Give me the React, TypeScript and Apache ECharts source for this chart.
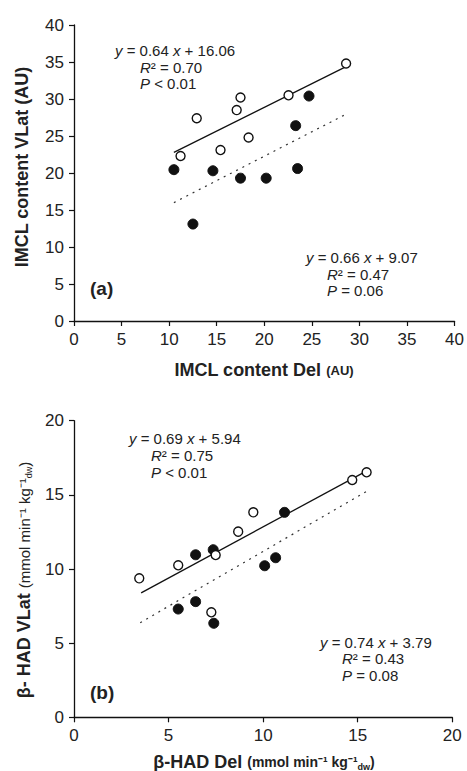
import React, { useEffect, useRef } from "react";
import * as echarts from "echarts";

// Panel (a): IMCL content
const imclOpenX = [11.2, 12.9, 15.4, 17.1, 17.5, 18.35, 22.55, 28.6];
const imclOpenY = [22.3, 27.4, 23.1, 28.5, 30.2, 24.8, 30.5, 34.8];
const imclFilledX = [10.5, 12.5, 14.6, 17.5, 20.2, 23.3, 23.5, 24.7];
const imclFilledY = [20.45, 13.1, 20.3, 19.3, 19.3, 26.4, 20.6, 30.4];
const imclOpenFit = { slope: 0.64, intercept: 16.06, from: 10.5, to: 28.6 };
const imclFilledFit = { slope: 0.66, intercept: 9.07, from: 10.5, to: 28.7 };
const imclTicks = [0, 5, 10, 15, 20, 25, 30, 35, 40];

// Panel (b): beta-HAD
const hadOpenX = [3.45, 5.51, 7.26, 7.49, 8.68, 9.48, 14.71, 15.47];
const hadOpenY = [9.37, 10.25, 7.08, 10.94, 12.52, 13.82, 16.0, 16.52];
const hadFilledX = [5.51, 6.43, 6.43, 7.36, 7.39, 10.08, 10.66, 11.13];
const hadFilledY = [7.3, 7.8, 10.96, 11.3, 6.34, 10.22, 10.76, 13.82];
const hadOpenFit = { slope: 0.69, intercept: 5.94, from: 3.55, to: 15.6 };
const hadFilledFit = { slope: 0.74, intercept: 3.79, from: 3.5, to: 15.55 };
const hadTicks = [0, 5, 10, 15, 20];

const FONT = "'Liberation Sans', Arial, Helvetica, sans-serif";
const INK = "#111111";

const pairs = (xs: number[], ys: number[]) => xs.map((x, i) => [x, ys[i]]);
const fitLine = (f: { slope: number; intercept: number; from: number; to: number }) => [
  [f.from, f.slope * f.from + f.intercept],
  [f.to, f.slope * f.to + f.intercept],
];

function axisCommon(ticks: number[]) {
  return {
    min: ticks[0],
    max: ticks[ticks.length - 1],
    interval: ticks[1] - ticks[0],
    axisLine: { show: true, onZero: false, lineStyle: { color: INK, width: 1.3 } },
    axisTick: { show: true, inside: false, length: 5, lineStyle: { color: INK, width: 1.2 } },
    axisLabel: { color: "#222", fontSize: 17, fontFamily: FONT, margin: 10 },
    splitLine: { show: false },
  };
}

const annRich = (size: number) => ({
  i: { fontStyle: "italic", fontSize: size, fontFamily: FONT, fill: "#222" },
  n: { fontSize: size, fontFamily: FONT, fill: "#222" },
});

function annText(x: number, y: number, text: string) {
  return {
    type: "text",
    x,
    y,
    style: {
      text,
      rich: annRich(15),
      fontSize: 15,
      fontFamily: FONT,
      fill: "#222",
      verticalAlign: "middle",
      align: "left",
    },
  };
}

export default function App() {
  const ref = useRef<HTMLDivElement>(null);
  useEffect(() => {
    if (!ref.current) return;
    const chart = echarts.init(ref.current, null, { renderer: "svg" });
    const openStyle = { color: "#ffffff", borderColor: INK, borderWidth: 1.4, opacity: 1 };
    const filledStyle = { color: INK, borderColor: INK, borderWidth: 1, opacity: 1 };
    const titleRich = {
      b: { fontSize: 18, fontWeight: "bold", fontFamily: FONT, fill: "#222" },
      s: { fontSize: 14, fontWeight: "bold", fontFamily: FONT, fill: "#222" },
      u: { fontSize: 13, fontWeight: "bold", fontFamily: FONT, fill: "#222" },
      d: { fontSize: 9, fontWeight: "bold", fontFamily: FONT, fill: "#222", verticalAlign: "bottom", padding: [6, 0, 0, 0] },
      r: { fontSize: 15, fontWeight: "normal", fontFamily: FONT, fill: "#222" },
      rs: { fontSize: 9, fontWeight: "normal", fontFamily: FONT, fill: "#222", verticalAlign: "bottom", padding: [6, 0, 0, 0] },
    };
    chart.setOption({
      animation: false,
      backgroundColor: "#ffffff",
      grid: [
        { left: 74, top: 25, width: 381, height: 296 },
        { left: 74, top: 420.7, width: 378.3, height: 296.6 },
      ],
      xAxis: [
        { type: "value", gridIndex: 0, ...axisCommon(imclTicks) },
        { type: "value", gridIndex: 1, ...axisCommon(hadTicks) },
      ],
      yAxis: [
        { type: "value", gridIndex: 0, ...axisCommon(imclTicks) },
        { type: "value", gridIndex: 1, ...axisCommon(hadTicks) },
      ],
      series: [
        {
          type: "line", xAxisIndex: 0, yAxisIndex: 0, data: fitLine(imclOpenFit), symbol: "none",
          lineStyle: { color: INK, width: 1.3, type: "solid" }, z: 1,
        },
        {
          type: "line", xAxisIndex: 0, yAxisIndex: 0, data: fitLine(imclFilledFit), symbol: "none",
          lineStyle: { color: "#333", width: 1.2, type: [2, 5] }, z: 1,
        },
        {
          type: "scatter", xAxisIndex: 0, yAxisIndex: 0, data: pairs(imclFilledX, imclFilledY),
          symbol: "circle", symbolSize: 10, itemStyle: filledStyle, z: 2,
        },
        {
          type: "scatter", xAxisIndex: 0, yAxisIndex: 0, data: pairs(imclOpenX, imclOpenY),
          symbol: "circle", symbolSize: 9, itemStyle: openStyle, z: 3,
        },
        {
          type: "line", xAxisIndex: 1, yAxisIndex: 1, data: fitLine(hadOpenFit), symbol: "none",
          lineStyle: { color: INK, width: 1.3, type: "solid" }, z: 1,
        },
        {
          type: "line", xAxisIndex: 1, yAxisIndex: 1, data: fitLine(hadFilledFit), symbol: "none",
          lineStyle: { color: "#333", width: 1.2, type: [2, 5] }, z: 1,
        },
        {
          type: "scatter", xAxisIndex: 1, yAxisIndex: 1, data: pairs(hadFilledX, hadFilledY),
          symbol: "circle", symbolSize: 10, itemStyle: filledStyle, z: 2,
        },
        {
          type: "scatter", xAxisIndex: 1, yAxisIndex: 1, data: pairs(hadOpenX, hadOpenY),
          symbol: "circle", symbolSize: 9, itemStyle: openStyle, z: 3,
        },
      ],
      graphic: [
        annText(115, 50, "{i|y}{n| = 0.64 }{i|x}{n| + 16.06}"),
        annText(140, 67, "{i|R}{n|² = 0.70}"),
        annText(140, 83, "{i|P}{n| < 0.01}"),
        annText(306, 257, "{i|y}{n| = 0.66 }{i|x}{n| + 9.07}"),
        annText(327, 274, "{i|R}{n|² = 0.47}"),
        annText(327, 290, "{i|P}{n| = 0.06}"),
        annText(129, 438, "{i|y}{n| = 0.69 }{i|x}{n| + 5.94}"),
        annText(151, 455, "{i|R}{n|² = 0.75}"),
        annText(151, 472, "{i|P}{n| < 0.01}"),
        annText(320, 642, "{i|y}{n| = 0.74 }{i|x}{n| + 3.79}"),
        annText(342, 658, "{i|R}{n|² = 0.43}"),
        annText(342, 675, "{i|P}{n| = 0.08}"),
        {
          type: "text", x: 90, y: 288,
          style: { text: "(a)", fontSize: 19, fontWeight: "bold", fontFamily: FONT, fill: "#222", verticalAlign: "middle" },
        },
        {
          type: "text", x: 90, y: 692,
          style: { text: "(b)", fontSize: 19, fontWeight: "bold", fontFamily: FONT, fill: "#222", verticalAlign: "middle" },
        },
        {
          type: "text", x: 264, y: 370,
          style: {
            text: "{b|IMCL content Del }{u|(AU)}", rich: titleRich,
            align: "center", verticalAlign: "middle",
          },
        },
        {
          type: "text", x: 22, y: 167, rotation: Math.PI / 2,
          style: {
            text: "{b|IMCL content VLat (AU)}", rich: titleRich,
            align: "center", verticalAlign: "middle",
          },
        },
        {
          type: "text", x: 264, y: 762,
          style: {
            text: "{b|β-HAD Del }{s|(mmol min⁻¹ kg⁻¹}{d|dw}{s|)}", rich: titleRich,
            align: "center", verticalAlign: "middle",
          },
        },
        {
          type: "text", x: 24, y: 580, rotation: Math.PI / 2,
          style: {
            text: "{b|β- HAD VLat }{r|(mmol min⁻¹ kg⁻¹}{rs|dw}{r|)}", rich: titleRich,
            align: "center", verticalAlign: "middle",
          },
        },
      ],
    });
    return () => chart.dispose();
  }, []);
  return (
    <div
      ref={ref}
      style={{ position: "fixed", left: 0, top: 0, width: 467, height: 771, background: "#fff" }}
    />
  );
}
